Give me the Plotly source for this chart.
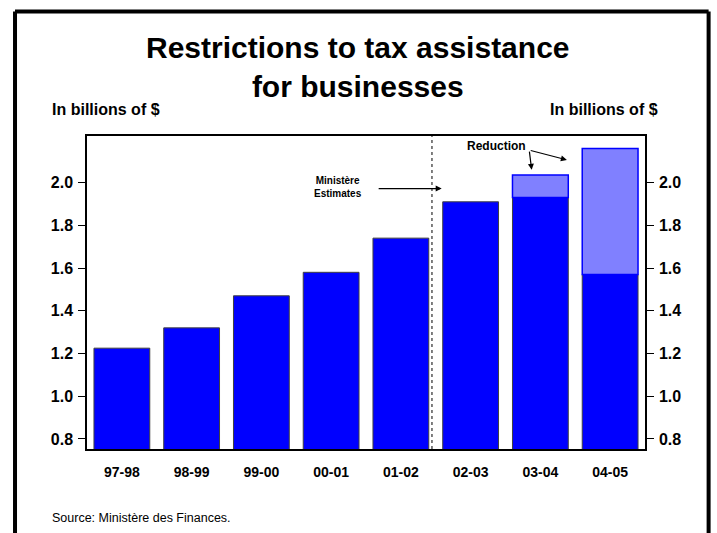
import plotly.graph_objects as go

# ---- data ----
years = ["97-98", "98-99", "99-00", "00-01", "01-02", "02-03", "03-04", "04-05"]
after_restriction = [1.225, 1.32, 1.47, 1.58, 1.74, 1.91, 1.93, 1.57]
reduction_years = ["03-04", "04-05"]
before_restriction = [2.035, 2.16]
reduction_base = [1.93, 1.57]
y_ticks = [0.8, 1.0, 1.2, 1.4, 1.6, 1.8, 2.0]
y_range = [0.753, 2.218]

reduction_height = [t - b for t, b in zip(before_restriction, reduction_base)]

FONT = "Liberation Sans, Arial, sans-serif"

fig = go.Figure()
fig.add_trace(go.Bar(
    x=years, y=after_restriction,
    marker=dict(color="#0000FF", line=dict(color="#404040", width=1)),
    hoverinfo="skip", showlegend=False,
))
fig.add_trace(go.Bar(
    x=reduction_years, y=reduction_height, base=reduction_base,
    marker=dict(color="#8080FF", line=dict(color="#0000FF", width=1.5)),
    hoverinfo="skip", showlegend=False,
))
# invisible trace to anchor the right-hand axis
fig.add_trace(go.Scatter(
    x=years, y=after_restriction, yaxis="y2", mode="markers",
    marker=dict(opacity=0), hoverinfo="skip", showlegend=False,
))

axis_font = dict(family=FONT, size=16, color="black")
fig.update_layout(
    width=717, height=533,
    margin=dict(l=87, r=72, t=136, b=84),
    paper_bgcolor="white", plot_bgcolor="white",
    barmode="overlay", bargap=0.2,
    font=dict(family=FONT, color="black"),
    xaxis=dict(
        type="category", categoryorder="array", categoryarray=years,
        showgrid=False, zeroline=False, showline=True, linecolor="black",
        linewidth=1.5, mirror=True, ticks="",
        tickfont=dict(family=FONT, size=14, color="black", weight="bold"),
        ticklabelstandoff=9,
    ),
    yaxis=dict(
        range=y_range, tickvals=y_ticks, tickformat=".1f",
        showgrid=False, zeroline=False, showline=True, linecolor="black",
        linewidth=1.5, ticks="outside", ticklen=7, tickcolor="black",
        tickwidth=1, ticklabelstandoff=2,
        tickfont=dict(axis_font, weight="bold"),
    ),
    yaxis2=dict(
        range=y_range, tickvals=y_ticks, tickformat=".1f", overlaying="y",
        side="right", showgrid=False, zeroline=False, showline=True,
        linecolor="black", linewidth=1.5, ticks="outside", ticklen=7,
        tickcolor="black", tickwidth=1, ticklabelstandoff=2,
        tickfont=dict(axis_font, weight="bold"),
    ),
)

# outer frame (left, top, right)
frame = dict(type="line", xref="paper", yref="paper",
             line=dict(color="black", width=4))
fig.add_shape(**frame, x0=-0.129, x1=-0.129, y0=-0.35, y1=1.398)
fig.add_shape(**frame, x0=-0.129, x1=1.114, y0=1.398, y1=1.398)
fig.add_shape(**frame, x0=1.114, x1=1.114, y0=-0.35, y1=1.398)

# dotted separator between actuals and estimates
fig.add_shape(type="line", xref="x", yref="paper", x0=4.446, x1=4.446,
              y0=0, y1=1, line=dict(color="black", width=1, dash="dot"))

# title
fig.add_annotation(
    xref="paper", yref="paper", x=0.4857, y=1.219, xanchor="center", yanchor="middle",
    text="<b>Restrictions to tax assistance<br>for businesses</b>", showarrow=False,
    font=dict(family=FONT, size=30, color="black"),
)
# unit labels
fig.add_annotation(xref="paper", yref="paper", x=-0.0663, y=1.086,
                   xanchor="left", yanchor="middle", showarrow=False,
                   text="<b>In billions of $</b>",
                   font=dict(family=FONT, size=16, color="black"))
fig.add_annotation(xref="paper", yref="paper", x=1.027, y=1.086,
                   xanchor="right", yanchor="middle", showarrow=False,
                   text="<b>In billions of $</b>",
                   font=dict(family=FONT, size=16, color="black"))
# source
fig.add_annotation(xref="paper", yref="paper", x=-0.0663, y=-0.22,
                   xanchor="left", yanchor="middle", showarrow=False,
                   text="Source: Ministère des Finances.",
                   font=dict(family=FONT, size=12.5, color="black"))

# Ministère estimates annotation
fig.add_annotation(xref="x", yref="y", x=3.1, y=1.98, xanchor="center",
                   yanchor="middle", showarrow=False,
                   text="<b>Ministère<br>Estimates</b>",
                   font=dict(family=FONT, size=10, color="black"))
fig.add_annotation(xref="x", yref="y", x=4.585, y=1.972, axref="x", ayref="y",
                   ax=3.66, ay=1.972, text="", showarrow=True, arrowhead=2,
                   arrowsize=1, arrowwidth=1.2, arrowcolor="black")

# Reduction annotation
fig.add_annotation(xref="x", yref="y", x=5.378, y=2.17, xanchor="center",
                   yanchor="middle", showarrow=False,
                   text="<b>Reduction</b>",
                   font=dict(family=FONT, size=12, color="black"))
fig.add_annotation(xref="x", yref="y", x=5.875, y=2.06, axref="x", ayref="y",
                   ax=5.84, ay=2.152, text="", showarrow=True, arrowhead=2,
                   arrowsize=1, arrowwidth=1.2, arrowcolor="black")
fig.add_annotation(xref="x", yref="y", x=6.38, y=2.106, axref="x", ayref="y",
                   ax=5.84, ay=2.152, text="", showarrow=True, arrowhead=2,
                   arrowsize=1, arrowwidth=1.2, arrowcolor="black")

fig.write_html("out.html")
